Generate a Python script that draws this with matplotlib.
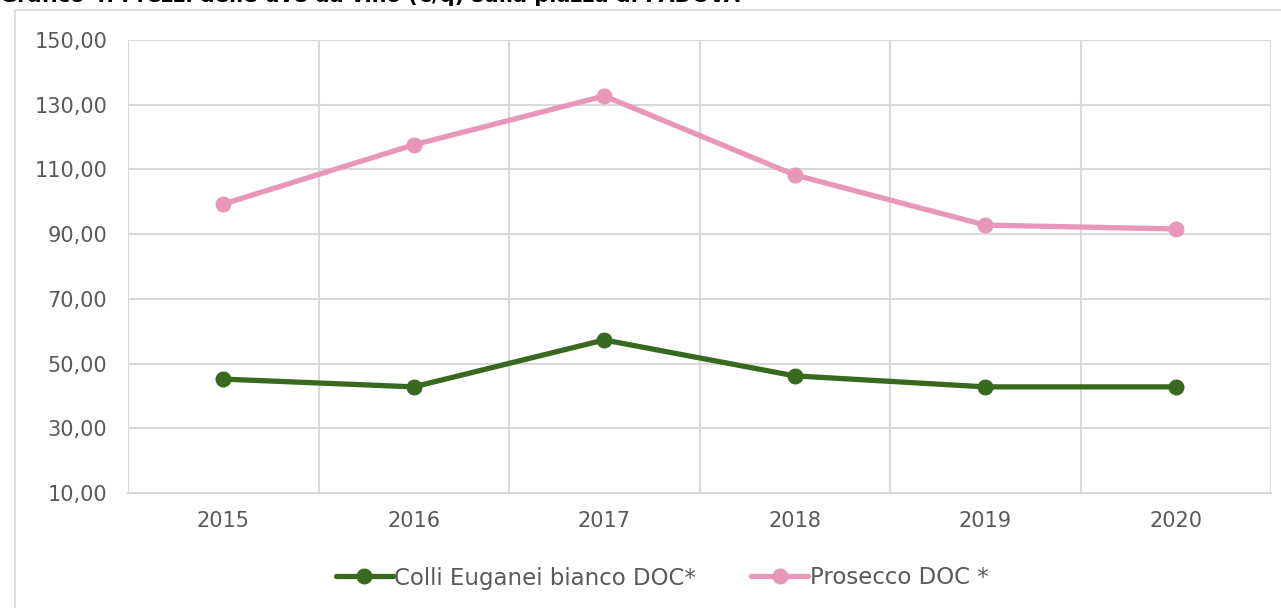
import numpy as np
import matplotlib
matplotlib.use("Agg")
import matplotlib.pyplot as plt
from matplotlib.patches import Rectangle
from matplotlib.ticker import FuncFormatter, FixedLocator

years = ["2015", "2016", "2017", "2018", "2019", "2020"]
colli_euganei = [45.2, 42.8, 57.3, 46.2, 42.8, 42.8]
prosecco = [99.3, 117.6, 132.7, 108.3, 92.8, 91.6]

title = "Grafico 4. Prezzi delle uve da vino (€/q) sulla piazza di PADOVA"
label_colli = "Colli Euganei bianco DOC*"
label_prosecco = "Prosecco DOC *"

GREEN = "#376a1e"
PINK = "#e897b8"
GRID = "#d9d9d9"
TEXT = "#595959"

plt.rcParams["font.family"] = ["DejaVu Sans"]

fig = plt.figure(figsize=(12.81, 6.08), dpi=100)
ax = fig.add_axes([128 / 1281, 1 - 493 / 608, (1271 - 128) / 1281, (493 - 40) / 608])

# chart frame (partly outside the picture)
fig.patches.append(Rectangle((15 / 1281, -0.1), 1.2, 1 - 10 / 608 + 0.1,
                             transform=fig.transFigure, fill=False,
                             edgecolor=GRID, lw=1.2, zorder=0))

# title, cut at the top edge as in the source page
fig.text(0.0, 1 - 2 / 608, title, ha="left", va="baseline",
         fontsize=15, fontweight="bold", color="black")

x = np.arange(len(years))
ax.plot(x, colli_euganei, color=GREEN, lw=3.8, marker="o", ms=10.5,
        label=label_colli, solid_capstyle="round", zorder=3)
ax.plot(x, prosecco, color=PINK, lw=3.8, marker="o", ms=10.5,
        label=label_prosecco, solid_capstyle="round", zorder=3)

ax.set_xlim(-0.5, len(years) - 0.5)
ax.set_ylim(10, 150)
ax.set_yticks(np.arange(10, 151, 20))
ax.yaxis.set_major_formatter(FuncFormatter(lambda v, p: f"{v:.2f}".replace(".", ",")))
ax.set_xticks(x)
ax.set_xticklabels(years)
ax.xaxis.set_minor_locator(FixedLocator(np.arange(-0.5, len(years), 1.0)))

ax.grid(axis="y", which="major", color=GRID, lw=1.5)
ax.grid(axis="x", which="minor", color=GRID, lw=1.5)
ax.set_axisbelow(True)
for s in ["top", "right", "left"]:
    ax.spines[s].set_visible(False)
ax.spines["bottom"].set_color(GRID)
ax.spines["bottom"].set_linewidth(1.5)

ax.tick_params(axis="both", which="both", length=0, colors=TEXT, labelsize=15)
ax.tick_params(axis="y", pad=15)
ax.tick_params(axis="x", pad=13)

leg = fig.legend(loc="center", bbox_to_anchor=(662 / 1281, 1 - 578 / 608),
                 ncol=2, frameon=False, fontsize=16.5, handlelength=2.5,
                 handletextpad=0.05, columnspacing=2.4, labelcolor=TEXT)

fig.savefig("out.png", dpi=100)
